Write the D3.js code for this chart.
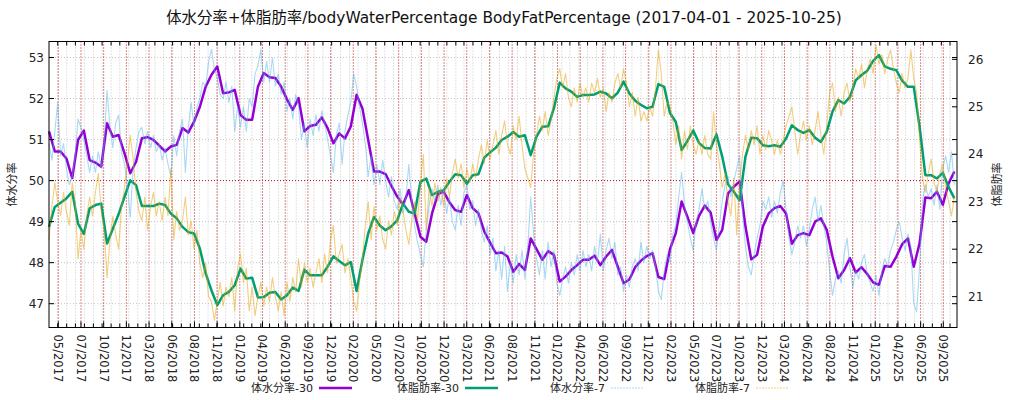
<!DOCTYPE html>
<html>
<head>
<meta charset="utf-8">
<script src="https://cdn.jsdelivr.net/npm/d3@7"></script>
<style>
  body { margin: 0; background: #fff; }
  svg { display: block; font-family: "DejaVu Sans", "Noto Sans CJK JP", sans-serif; }
</style>
</head>
<body>
<svg id="chart" width="1024" height="400"></svg>
<script>
// range of the chart and sampling of the series
const startDate = '2017-04-01';
const endDate = '2025-10-25';
const avg30StepDays = 20;   // one value every 20 days for the 30-day averages
const avg7StepDays = 10;    // one value every 10 days for the 7-day averages

// 体水分率-30 (left axis)
const water30 = [
  51.2, 50.71, 50.71, 50.54, 50.06, 50.99, 51.22, 50.50, 50.44, 50.34,
  51.40, 51.07, 51.11, 50.67, 50.18, 50.46, 51.03, 51.06, 50.99, 50.85,
  50.71, 50.83, 50.87, 51.28, 51.17, 51.44, 51.80, 52.29, 52.58, 52.78,
  52.13, 52.15, 52.21, 51.60, 51.48, 51.48, 52.29, 52.62, 52.52, 52.50,
  52.29, 51.98, 51.72, 52.01, 51.20, 51.33, 51.36, 51.54, 51.28, 50.91,
  51.15, 51.03, 51.32, 52.09, 51.76, 50.99, 50.22, 50.22, 50.16, 49.87,
  49.61, 49.41, 49.77, 49.20, 48.63, 48.51, 49.20, 49.67, 49.73, 49.47,
  49.28, 49.24, 49.65, 49.33, 49.20, 48.76, 48.49, 48.23, 48.25, 48.15,
  47.78, 47.97, 47.82, 48.59, 48.33, 48.07, 48.28, 48.19, 47.54, 47.66,
  47.82, 47.94, 48.07, 48.07, 48.17, 47.94, 48.15, 48.31, 47.90, 47.50,
  47.59, 47.89, 48.05, 48.16, 48.23, 47.65, 47.60, 48.33, 48.72, 49.49,
  49.12, 48.72, 49.14, 49.39, 49.22, 48.55, 48.80, 49.69, 49.85, 49.98,
  48.88, 48.08, 48.19, 48.88, 49.20, 49.33, 49.38, 49.20, 48.46, 48.67,
  48.72, 48.67, 49.00, 49.08, 48.80, 48.15, 47.62, 47.82, 48.11, 47.76,
  47.89, 47.72, 47.52, 47.46, 47.92, 47.90, 48.15, 48.45, 48.59, 47.90,
  48.47, 49.59, 49.57, 49.73, 49.41, 49.93, 50.22
];

// 体脂肪率-30 (right axis)
const fat30 = [
  22.47, 22.89, 22.98, 23.07, 23.21, 22.54, 22.32, 22.86, 22.93, 22.96,
  22.12, 22.43, 22.74, 23.10, 23.45, 23.35, 22.91, 22.91, 22.91, 22.96,
  22.93, 22.75, 22.65, 22.47, 22.36, 22.33, 22.01, 21.49, 21.13, 20.82,
  21.03, 21.10, 21.24, 21.59, 21.38, 21.40, 20.98, 20.99, 21.08, 21.10,
  20.94, 21.03, 21.19, 21.12, 21.57, 21.45, 21.45, 21.45, 21.63, 21.85,
  21.75, 21.66, 21.73, 21.12, 21.77, 22.33, 22.68, 22.50, 22.40, 22.48,
  22.61, 22.96, 22.79, 22.75, 23.42, 23.49, 23.14, 23.21, 23.24, 23.42,
  23.58, 23.56, 23.38, 23.56, 23.58, 23.93, 24.04, 24.14, 24.30, 24.37,
  24.47, 24.37, 24.40, 23.98, 24.37, 24.58, 24.59, 24.97, 25.51, 25.39,
  25.32, 25.21, 25.25, 25.25, 25.26, 25.32, 25.28, 25.18, 25.30, 25.53,
  25.28, 25.13, 25.04, 24.97, 25.00, 25.48, 25.42, 24.87, 24.68, 24.09,
  24.28, 24.50, 24.24, 24.13, 24.12, 24.42, 23.95, 23.37, 23.21, 23.03,
  23.95, 24.35, 24.34, 24.19, 24.17, 24.19, 24.16, 24.33, 24.61, 24.51,
  24.45, 24.51, 24.35, 24.26, 24.47, 24.90, 25.14, 25.07, 25.21, 25.56,
  25.67, 25.76, 25.97, 26.09, 25.85, 25.80, 25.77, 25.55, 25.42, 25.42,
  24.58, 23.56, 23.56, 23.49, 23.61, 23.31, 23.07
];

// 体水分率-7 (left axis)
const water7 = [
  50.9, 50.5, 51.2, 51.9, 50.6, 50.9, 50.3, 49.9, 50.1, 50.6,
  51.5, 51.3, 51.0, 50.6, 50.2, 50.6, 50.2, 50.7, 50.3, 50.9,
  52.2, 51.3, 50.8, 51.4, 51.6, 50.7, 50.4, 49.9, 49.1, 50.3,
  50.8, 51.2, 51.3, 50.9, 51.2, 50.8, 51.1, 50.7, 50.9, 50.5,
  50.8, 50.4, 50.1, 51.1, 50.6, 51.2, 51.5, 50.2, 51.3, 51.9,
  51.3, 51.8, 52.0, 52.4, 52.3, 52.9, 53.2, 52.7, 52.5, 52.1,
  52.0, 52.4, 51.9, 52.3, 51.2, 51.8, 51.3, 51.8, 51.2, 52.0,
  51.8, 52.6, 52.8, 53.2, 52.4, 52.9, 52.4, 53.0, 52.3, 52.6,
  52.1, 52.4, 51.7, 52.0, 51.5, 52.1, 51.8, 51.0, 51.4, 50.8,
  51.5, 51.1, 51.6, 51.2, 51.7, 51.4, 51.0, 50.6, 50.2, 51.1,
  51.4, 50.4, 51.2, 51.6, 51.9, 52.6, 52.3, 51.8, 51.4, 50.9,
  50.1, 50.6, 49.9, 50.4, 49.9, 50.5, 50.0, 49.6, 50.1, 49.5,
  49.3, 49.8, 49.2, 49.6, 50.4, 49.5, 48.9, 48.5, 48.2, 47.9,
  48.8, 49.4, 49.8, 49.5, 49.9, 49.4, 49.8, 49.2, 49.6, 49.0,
  48.8, 49.4, 48.9, 49.7, 49.9, 49.3, 49.5, 48.9, 49.3, 48.8,
  48.5, 48.9, 48.2, 48.6, 47.8, 48.3, 47.6, 48.4, 47.3, 48.0,
  47.5, 48.2, 47.7, 48.3, 47.6, 48.4, 49.6, 48.7, 48.1, 47.7,
  48.3, 47.6, 48.5, 47.9, 48.3, 47.5, 47.2, 47.6, 47.9, 47.5,
  48.0, 47.7, 48.2, 47.8, 48.3, 47.9, 48.2, 47.8, 48.4, 48.0,
  48.7, 47.8, 48.3, 48.6, 48.1, 48.5, 47.7, 47.9, 47.3, 47.7,
  47.4, 47.9, 48.1, 47.8, 48.5, 48.0, 48.4, 48.1, 48.3, 47.9,
  47.3, 47.1, 47.8, 48.2, 48.0, 48.7, 48.9, 49.6, 50.2, 49.4,
  49.0, 48.6, 48.3, 49.0, 49.3, 49.8, 49.3, 49.5, 49.0, 48.6,
  48.3, 48.9, 49.5, 49.9, 50.1, 49.6, 50.0, 50.3, 50.6, 49.2,
  48.4, 47.9, 47.7, 48.2, 48.6, 48.9, 49.5, 49.3, 49.6, 49.1,
  49.5, 49.2, 49.7, 50.0, 49.3, 48.6, 48.2, 48.5, 48.9, 48.6,
  48.9, 48.4, 48.8, 49.3, 49.6, 49.0, 49.4, 48.9, 48.5, 47.8,
  47.2, 47.6, 47.8, 47.5, 48.2, 48.6, 47.9, 47.4, 47.8, 47.6,
  48.0, 48.2, 47.7, 47.5, 47.3, 47.7, 47.2, 47.8, 48.1, 47.9,
  48.3, 48.5, 48.8, 49.0, 48.6, 48.3, 48.7, 48.4, 47.0, 46.8,
  47.9, 49.5, 49.9, 49.6, 49.8, 49.4, 49.9, 49.3, 50.3, 50.6,
  50.2, 50.7, 49.9
];

// 体脂肪率-7 (right axis)
const fat7 = [
  22.2, 22.9, 23.4, 23.0, 22.7, 23.2, 22.8, 22.5, 23.4, 23.0,
  21.8, 22.4, 22.0, 22.7, 23.1, 22.7, 23.2, 23.6, 22.8, 22.4,
  21.4, 22.2, 22.7, 22.3, 22.0, 22.9, 23.3, 23.8, 24.4, 23.9,
  23.2, 22.8, 22.6, 23.1, 22.4, 22.9, 23.2, 22.7, 23.0, 22.6,
  23.1, 22.7, 23.7, 22.2, 22.8, 22.4, 22.6, 23.1, 22.3, 22.6,
  22.0, 22.4, 21.7, 21.4, 21.7, 21.0, 20.9, 20.5, 20.9, 21.3,
  20.8, 21.2, 21.0, 21.4, 20.7, 21.6, 21.9, 21.3, 21.6, 20.7,
  21.2, 20.6, 21.0, 21.3, 20.8, 21.2, 20.9, 21.4, 21.0, 20.7,
  21.1, 20.6, 21.3, 20.9, 21.4, 21.1, 21.8, 21.2, 21.7, 21.3,
  21.6, 21.2, 21.5, 21.8, 21.3, 21.9, 21.5, 22.2, 22.5, 21.7,
  21.9, 22.1, 21.5, 21.8, 21.4, 20.9, 20.7, 21.3, 21.8, 22.5,
  23.0, 22.2, 22.9, 22.4, 22.7, 22.2, 22.0, 22.6, 22.3, 22.8,
  22.5, 23.1, 22.8, 22.4, 22.1, 22.6, 23.0, 22.6, 23.4, 24.0,
  22.4, 23.3, 22.9, 23.4, 23.0, 23.3, 22.9, 23.5, 23.1, 23.6,
  23.9, 23.5, 23.8, 23.3, 23.7, 23.4, 23.8, 23.5, 23.9, 24.2,
  23.8, 24.3, 23.9, 24.2, 24.5, 24.0, 24.4, 24.7, 24.2, 24.0,
  24.6, 24.3, 24.8, 24.2, 23.7, 23.5, 23.3, 24.0, 24.4, 24.8,
  24.5, 24.9, 24.4, 24.7, 25.2, 25.6, 25.8, 25.4, 25.7, 25.2,
  25.0, 25.4, 25.1, 25.5, 25.2, 25.4, 25.1, 25.5, 25.3, 25.6,
  25.2, 25.4, 24.9, 25.3, 25.1, 25.5, 25.7, 25.4, 25.8, 25.5,
  25.0, 25.3, 24.8, 25.2, 24.7, 24.9, 24.7, 25.0, 24.8, 25.4,
  26.2, 25.7, 24.8, 25.1, 25.0, 24.7, 24.2, 24.6, 23.9, 24.5,
  24.1, 24.6, 24.2, 24.0, 24.3, 24.0, 24.4, 24.0, 23.9, 24.9,
  24.2, 23.8, 23.3, 23.6, 23.0, 22.7, 23.5, 22.3, 23.4, 24.0,
  24.4, 24.1, 24.5, 24.2, 24.6, 24.0, 24.4, 24.1, 24.5, 24.3,
  24.0, 24.3, 24.0, 24.3, 24.6, 24.8, 25.0, 24.5, 24.0, 24.4,
  24.7, 24.3, 24.6, 24.2, 24.5, 24.9, 24.4, 24.0, 24.6, 25.3,
  25.5, 24.9, 25.2, 24.8, 25.3, 25.5, 25.1, 25.4, 25.8, 25.6,
  25.9, 25.4, 25.8, 26.0, 25.7, 26.3, 25.9, 26.1, 25.7, 26.0,
  26.2, 25.8, 25.5, 25.3, 25.7, 25.4, 25.6, 26.2, 25.6, 25.3,
  24.3, 23.5, 23.2, 23.6, 23.9, 23.4, 23.2, 23.6, 23.8, 23.3,
  23.0, 22.7, 23.1
];

// axis ticks
const leftTicks = [47, 48, 49, 50, 51, 52, 53];
const rightTicks = [21, 22, 23, 24, 25, 26];
const xTickFirst = '2017-05-03';
const xTickStepDays = 78.2;
const xTickLabels = [
  '05/2017', '07/2017', '10/2017', '12/2017', '03/2018', '06/2018', '08/2018', '11/2018',
  '01/2019', '04/2019', '06/2019', '09/2019', '12/2019', '02/2020', '05/2020', '07/2020',
  '10/2020', '12/2020', '03/2021', '06/2021', '08/2021', '11/2021', '01/2022', '04/2022',
  '06/2022', '09/2022', '11/2022', '02/2023', '05/2023', '07/2023', '10/2023', '12/2023',
  '03/2024', '06/2024', '08/2024', '11/2024', '01/2025', '04/2025', '06/2025', '09/2025'
];

const seriesInfo = [
  { name: '体水分率-30', values: water30, step: avg30StepDays, axis: 'left',  color: '#9400d3', width: 2.5, opacity: 1 },
  { name: '体脂肪率-30', values: fat30,   step: avg30StepDays, axis: 'right', color: '#009e73', width: 2.5, opacity: 1 },
  { name: '体水分率-7',  values: water7,  step: avg7StepDays,  axis: 'left',  color: '#56b4e9', width: 1.1, opacity: 0.5 },
  { name: '体脂肪率-7',  values: fat7,    step: avg7StepDays,  axis: 'right', color: '#e69f00', width: 1.1, opacity: 0.5 }
];

const plot = { left: 49, right: 957, top: 41.5, bottom: 327.5 };
const parse = d3.utcParse('%Y-%m-%d');
const t0 = parse(startDate);
const t1 = parse(endDate);

const svg = d3.select('#chart');

const x = d3.scaleUtc().domain([t0, t1]).range([plot.left, plot.right]);
const yLeft = d3.scaleLinear().domain([46.42, 53.39]).range([plot.bottom, plot.top]);
const yRight = d3.scaleLinear().domain([20.35, 26.376]).range([plot.bottom, plot.top]);

const majorDates = xTickLabels.map((d, k) =>
  new Date(parse(xTickFirst).getTime() + k * xTickStepDays * 864e5));
const monthDates = d3.utcMonth.range(t0, t1).filter(d => x(d) > plot.left + 1);

const grid = svg.append('g');

// gray monthly grid
grid.selectAll('line.vm')
  .data(monthDates)
  .enter()
  .append('line')
  .attr('x1', d => x(d)).attr('x2', d => x(d))
  .attr('y1', plot.top).attr('y2', plot.bottom)
  .attr('stroke', '#c4c4c4')
  .attr('stroke-dasharray', '1,2');

grid.selectAll('line.hg')
  .data(leftTicks.filter(v => v !== 50))
  .enter()
  .append('line')
  .attr('x1', plot.left).attr('x2', plot.right)
  .attr('y1', d => yLeft(d)).attr('y2', d => yLeft(d))
  .attr('stroke', '#c4c4c4')
  .attr('stroke-dasharray', '1,2');

// red grid at the major ticks and at 50
grid.selectAll('line.vr')
  .data(majorDates)
  .enter()
  .append('line')
  .attr('x1', d => x(d)).attr('x2', d => x(d))
  .attr('y1', plot.top).attr('y2', plot.bottom)
  .attr('stroke', '#b01010')
  .attr('stroke-dasharray', '1,2');

grid.append('line')
  .attr('x1', plot.left).attr('x2', plot.right)
  .attr('y1', yLeft(50)).attr('y2', yLeft(50))
  .attr('stroke', '#b01010')
  .attr('stroke-dasharray', '1,2');

// series
const lines = svg.append('g');
seriesInfo.forEach(s => {
  const y = s.axis === 'left' ? yLeft : yRight;
  const pts = s.values.map((v, i) => [d3.utcDay.offset(t0, i * s.step), v]);
  const line = d3.line()
    .x(d => x(d[0]))
    .y(d => y(d[1]));
  lines.append('path')
    .datum(pts)
    .attr('d', line)
    .attr('fill', 'none')
    .attr('stroke', s.color)
    .attr('stroke-width', s.width)
    .attr('stroke-opacity', s.opacity)
    .attr('stroke-linejoin', 'round');
});

// ticks
const ticks = svg.append('g').attr('stroke', '#000');
ticks.selectAll('line.mt')
  .data(monthDates)
  .enter()
  .append('line')
  .attr('x1', d => x(d)).attr('x2', d => x(d))
  .attr('y1', plot.top).attr('y2', plot.top + 4);
ticks.selectAll('line.mb')
  .data(monthDates)
  .enter()
  .append('line')
  .attr('x1', d => x(d)).attr('x2', d => x(d))
  .attr('y1', plot.bottom).attr('y2', plot.bottom - 4);
ticks.selectAll('line.xb')
  .data(majorDates)
  .enter()
  .append('line')
  .attr('x1', d => x(d)).attr('x2', d => x(d))
  .attr('y1', plot.bottom).attr('y2', plot.bottom - 6);
ticks.selectAll('line.yl')
  .data(leftTicks)
  .enter()
  .append('line')
  .attr('x1', plot.left).attr('x2', plot.left + 5)
  .attr('y1', d => yLeft(d)).attr('y2', d => yLeft(d));
ticks.selectAll('line.ylm')
  .data(leftTicks)
  .enter()
  .append('line')
  .attr('x1', plot.right).attr('x2', plot.right - 5)
  .attr('y1', d => yLeft(d)).attr('y2', d => yLeft(d));
ticks.selectAll('line.yr')
  .data(rightTicks)
  .enter()
  .append('line')
  .attr('x1', plot.right).attr('x2', plot.right - 5)
  .attr('y1', d => yRight(d)).attr('y2', d => yRight(d));

// border
svg.append('rect')
  .attr('x', plot.left).attr('y', plot.top)
  .attr('width', plot.right - plot.left).attr('height', plot.bottom - plot.top)
  .attr('fill', 'none')
  .attr('stroke', '#000');

// tick labels
svg.append('g').selectAll('text')
  .data(leftTicks)
  .enter()
  .append('text')
  .attr('x', plot.left - 5)
  .attr('y', d => yLeft(d))
  .attr('dy', '0.35em')
  .attr('text-anchor', 'end')
  .attr('font-size', 12)
  .attr('fill', '#222')
  .text(d => d);

svg.append('g').selectAll('text')
  .data(rightTicks)
  .enter()
  .append('text')
  .attr('x', plot.right + 11)
  .attr('y', d => yRight(d))
  .attr('dy', '0.35em')
  .attr('text-anchor', 'start')
  .attr('font-size', 12)
  .attr('fill', '#222')
  .text(d => d);

svg.append('g').selectAll('text')
  .data(majorDates)
  .enter()
  .append('text')
  .attr('transform', d => `translate(${x(d)},${plot.bottom + 7}) rotate(90)`)
  .attr('dy', '0.35em')
  .attr('text-anchor', 'start')
  .attr('font-size', 11.5)
  .attr('fill', '#222')
  .text((d, k) => xTickLabels[k]);

// titles
svg.append('text')
  .attr('x', 504).attr('y', 23)
  .attr('text-anchor', 'middle')
  .attr('font-size', 15.4)
  .attr('fill', '#111')
  .text('体水分率+体脂肪率/bodyWaterPercentage BodyFatPercentage (2017-04-01 - 2025-10-25)');

svg.append('text')
  .attr('transform', `translate(16,${(plot.top + plot.bottom) / 2}) rotate(-90)`)
  .attr('text-anchor', 'middle')
  .attr('font-size', 11)
  .attr('fill', '#222')
  .text('体水分率');

svg.append('text')
  .attr('transform', `translate(1001,${(plot.top + plot.bottom) / 2}) rotate(-90)`)
  .attr('text-anchor', 'middle')
  .attr('font-size', 11)
  .attr('fill', '#222')
  .text('体脂肪率');

// legend
const legendX = [313, 459, 605, 750];
const legend = svg.append('g');
seriesInfo.forEach((s, k) => {
  legend.append('text')
    .attr('x', legendX[k]).attr('y', 388)
    .attr('dy', '0.35em')
    .attr('text-anchor', 'end')
    .attr('font-size', 11)
    .attr('fill', '#222')
    .text(s.name);
  legend.append('line')
    .attr('x1', legendX[k] + 6).attr('x2', legendX[k] + 39)
    .attr('y1', 388).attr('y2', 388)
    .attr('stroke', s.color)
    .attr('stroke-width', s.width)
    .attr('stroke-opacity', s.opacity)
    .attr('stroke-dasharray', s.step === avg7StepDays ? '2,1' : null);
});
</script>
</body>
</html>
